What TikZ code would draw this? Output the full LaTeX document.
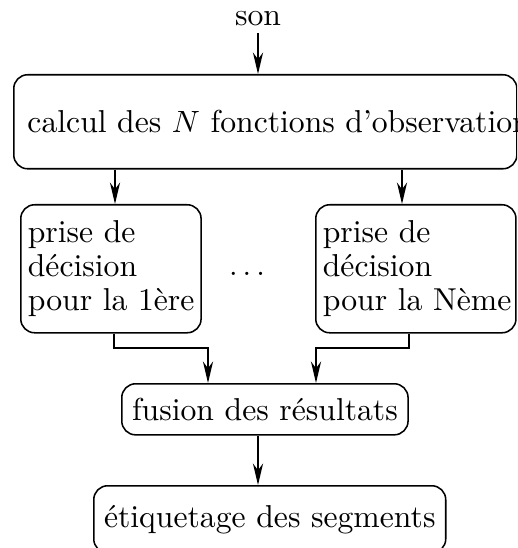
\documentclass[tikz,border=0pt]{standalone}
\usetikzlibrary{arrows.meta}
\begin{document}
\begin{tikzpicture}[x=0.325pt,y=-0.325pt,
  box/.style={draw, rounded corners=4.5pt, line width=0.5pt},
  arr/.style={line width=0.5pt, -{Stealth[length=7pt,width=3.3pt,inset=2.2pt]}},
  font=\fontsize{10.3}{11.3}\selectfont]
\clip (0,0) rectangle (517,548);
\fill[white] (0,0) rectangle (517,548);
\node[anchor=base, inner sep=2pt] (son) at (258,26) {son};
\node[box, anchor=north west, minimum width=163.5pt, minimum height=30.55pt, inner xsep=4.4pt] (calc) at (13,74)
  {\makebox[154.6pt][l]{calcul des $N$ fonctions d'observation}};
\node[box, anchor=north west, text width=54pt, align=left, inner xsep=2.3pt, minimum height=41.6pt] (p1) at (20,204)
  {\mbox{prise de}\\[-0.3pt]\mbox{décision}\\[-0.3pt]\mbox{pour la 1ère}};
\node[box, anchor=north west, text width=60.45pt, align=left, inner xsep=2.3pt, minimum height=41.6pt] (p2) at (315,204)
  {\mbox{prise de}\\[-0.3pt]\mbox{décision}\\[-0.3pt]\mbox{pour la Nème}};
\node[anchor=base, inner sep=0pt] (dots) at (247,276) {$\ldots$};
\node[box, anchor=north west, minimum width=91.3pt, minimum height=16.6pt] (fus) at (121,383) {fusion des résultats};
\node[box, anchor=north west, minimum width=112.1pt, minimum height=21.8pt] (etq) at (93,485) {étiquetage des segments};
\coordinate (xa) at (115,0);
\coordinate (xb) at (402,0);
\coordinate (xc) at (114,0);
\coordinate (xd) at (208,0);
\coordinate (xe) at (409,0);
\coordinate (xf) at (316,0);
\coordinate (xg) at (258,0);
\coordinate (yh) at (0,348);
\draw[arr] (son.south) -- (son.south |- calc.north);
\draw[arr] (calc.south -| xa) -- (p1.north -| xa);
\draw[arr] (calc.south -| xb) -- (p2.north -| xb);
\draw[arr] (p1.south -| xc) |- (xd |- yh) -- (fus.north -| xd);
\draw[arr] (p2.south -| xe) |- (xf |- yh) -- (fus.north -| xf);
\draw[arr] (fus.south -| xg) -- (etq.north -| xg);
\end{tikzpicture}
\end{document}
